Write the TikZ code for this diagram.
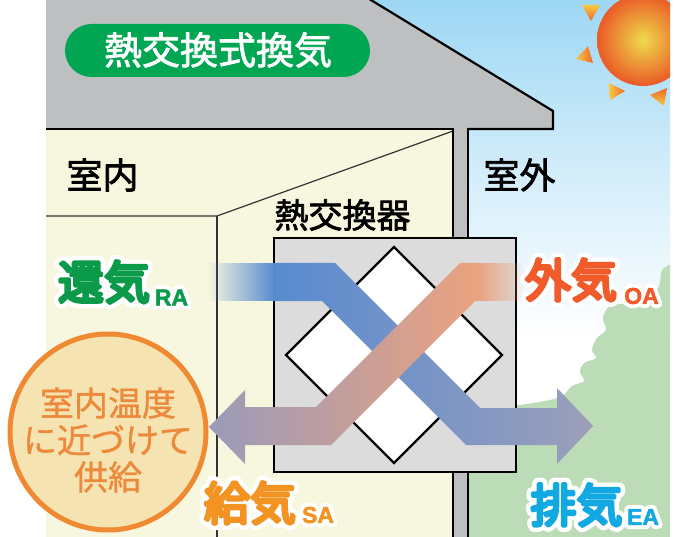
\documentclass[tikz,border=0pt]{standalone}
\usepackage{fontspec}
\usetikzlibrary{fadings}

% Japanese faces: plain, medium and heavy; the wide-stroke faces draw white halos
\newfontfamily\jpplain{Noto Sans CJK JP}[FakeBold=1]
\newfontfamily\jpmed{Noto Sans CJK JP}[FakeBold=2]
\newfontfamily\jpheavy{Noto Sans CJK JP}[FakeBold=7]
\newfontfamily\jphalo{Noto Sans CJK JP}[FakeBold=26]
\newfontfamily\latinheavy{Liberation Sans Bold}[FakeBold=2]
\newfontfamily\latinhalo{Liberation Sans Bold}[FakeBold=36]

\definecolor{roofgray}{HTML}{BEBFC1}
\definecolor{roomcream}{HTML}{F7F7DF}
\definecolor{skyblue}{HTML}{9DD7F4}
\definecolor{leafgreen}{HTML}{BCDCB7}
\definecolor{titlegreen}{HTML}{00A651}
\definecolor{coregray}{HTML}{DCDCDC}
\definecolor{rablue}{HTML}{578BD0}
\definecolor{eagray}{HTML}{9D9FBA}
\definecolor{oaorange}{HTML}{EBA27E}
\definecolor{sagray}{HTML}{9A9ABA}
\definecolor{sunyellow}{HTML}{EDDB4C}
\definecolor{sunred}{HTML}{EB5A26}
\definecolor{rayyellow}{HTML}{F7C843}
\definecolor{rayorange}{HTML}{EE6A2B}
\definecolor{circfill}{HTML}{F5E4B2}
\definecolor{circedge}{HTML}{EF8A32}
\definecolor{circtext}{HTML}{EC893A}
\definecolor{ragreen}{HTML}{0B9A4A}
\definecolor{oared}{HTML}{F15A29}
\definecolor{saorange}{HTML}{F39322}
\definecolor{eacyan}{HTML}{12A8E2}

\tikzfading[name=fadein east, left color=transparent!100, right color=transparent!0]
\tikzfading[name=fadeout east, left color=transparent!0, right color=transparent!100]

\tikzset{
  outline/.style={line width=2.2pt, line join=miter},
  thinline/.style={line width=1.2pt, draw=black!80},
  heading/.style={font=\jpmed\fontsize{36}{36}\selectfont, inner sep=0pt},
  airtag/.style={font=\jpheavy\fontsize{46}{46}\selectfont, inner sep=0pt},
  airtaghalo/.style={font=\jphalo\fontsize{46}{46}\selectfont, inner sep=0pt, text=white},
  airsub/.style={font=\latinheavy\fontsize{23}{23}\selectfont, inner sep=0pt},
  airsubhalo/.style={font=\latinhalo\fontsize{23}{23}\selectfont, inner sep=0pt, text=white},
}

% a label set on a white halo: name, position, halo style, text style, colour, text
\newcommand\haloed[6]{%
  \node[#3] (#1halo) at (#2) {#6};
  \node[#4, text=#5] (#1) at (#2) {#6};
}

\begin{document}
\begin{tikzpicture}[x=1pt, y=-1pt, line join=round]
\useasboundingbox (0,0) rectangle (677,537);
\fill[white] (0,0) rectangle (677,537);

% outdoor: sky, bushes and sun
\begin{scope}
  \clip (46,0) rectangle (670,537);
  \shade[top color=skyblue, bottom color=white, middle color=skyblue!45] (46,0) rectangle (670,340);
  \fill[leafgreen] plot[smooth, tension=0.6] coordinates {
      (672,264) (662,270) (659,286) (648,298) (628,303) (610,306) (603,318)
      (606,330) (597,338) (592,350) (596,358) (584,363) (580,372) (584,381)
      (572,386) (562,396) (545,401) (520,405)}
    -- (468,410) -- (468,540) -- (672,540) -- cycle;
  \shade[inner color=sunyellow, outer color=sunred] (643,40) circle (46);
  \shade[top color=rayyellow, bottom color=rayorange] (582,5) -- (600,5) -- (591,21) -- cycle;
  \shade[left color=rayyellow, right color=rayorange] (588,46) -- (593,63) -- (576,59) -- cycle;
  \shade[left color=rayyellow, right color=rayorange] (609,83) -- (625,91) -- (610,100) -- cycle;
  \shade[top color=rayorange, bottom color=rayyellow] (650,95) -- (667,88) -- (664,106) -- cycle;
\end{scope}

% roof
\fill[roofgray] (46,0) -- (371,0) -- (553,111) -- (553,129) -- (46,129) -- cycle;
\draw[outline] (364.4,-4) -- (553,111) -- (553,129) -- (468,129);
\draw[outline] (46,129) -- (453,129);

% room
\fill[roomcream] (46,130) rectangle (452,537);
\draw[thinline] (46,216) -- (217,216) -- (453,131);
\draw[thinline] (217,216) -- (217,540);

% outer wall
\fill[roofgray] (453,128) rectangle (468,537);
\draw[outline] (453,128) -- (453,540);
\draw[outline] (468,128) -- (468,540);

% title
\node[fill=titlegreen, rounded corners=26.5pt, minimum width=305pt, minimum height=53pt,
      inner sep=0pt] (titlebox) at (217.5,50.5) {};
\node[font=\jpmed\fontsize{38}{38}\selectfont, text=white, inner sep=0pt] (title)
  at (218,50) {熱交換式換気};

\node[heading] (indoor) at (102.5,175) {室内};
\node[heading] (outdoor) at (519.5,175) {室外};
\node[heading, font=\jpmed\fontsize{34}{34}\selectfont] (corelabel) at (342.5,215) {熱交換器};

% heat exchanger unit
\draw[outline, fill=coregray] (274,238) rectangle (516,472);
\draw[outline, fill=white] (394,247) -- (502,355) -- (394,463) -- (286,355) -- cycle;

% return air -> exhaust air
\fill[rablue, path fading=fadein east] (208,263) rectangle (275,301);
\shade[left color=rablue, right color=eagray]
  (274,263) -- (335,263) -- (480,408) -- (557,408) -- (557,388) -- (593,426)
  -- (557,464) -- (557,445) -- (466,445) -- (322,301) -- (274,301) -- cycle;

% outdoor air -> supply air
\fill[oaorange, path fading=fadeout east] (477.5,263) rectangle (524,301);
\shade[left color=sagray, right color=oaorange]
  (478,263) -- (460,263) -- (316,407) -- (245,407) -- (245,390) -- (209,427)
  -- (245,464) -- (245,445) -- (331,445) -- (475,301) -- (478,301) -- cycle;

% supply goal
\node[circle, draw=circedge, line width=5pt, fill=circfill, minimum size=196pt,
      inner sep=0pt] (goal) at (108,432) {};
\node[align=center, text=circtext, font=\jpplain\fontsize{34}{37}\selectfont,
      inner sep=0pt] (goaltext) at (108,440) {室内温度\\に近づけて\\供給};

% air labels
\haloed{ra}{104,282}{airtaghalo}{airtag}{ragreen}{還気}
\haloed{rasub}{171.5,297.5}{airsubhalo}{airsub}{ragreen}{RA}
\haloed{oa}{571,280}{airtaghalo}{airtag}{oared}{外気}
\haloed{oasub}{641.5,296}{airsubhalo}{airsub}{oared}{OA}
\haloed{sa}{250,503}{airtaghalo}{airtag}{saorange}{給気}
\haloed{sasub}{318,515}{airsubhalo}{airsub}{saorange}{SA}
\haloed{ea}{576.5,505}{airtaghalo}{airtag}{eacyan}{排気}
\haloed{easub}{643,517}{airsubhalo}{airsub}{eacyan}{EA}
\end{tikzpicture}
\end{document}
